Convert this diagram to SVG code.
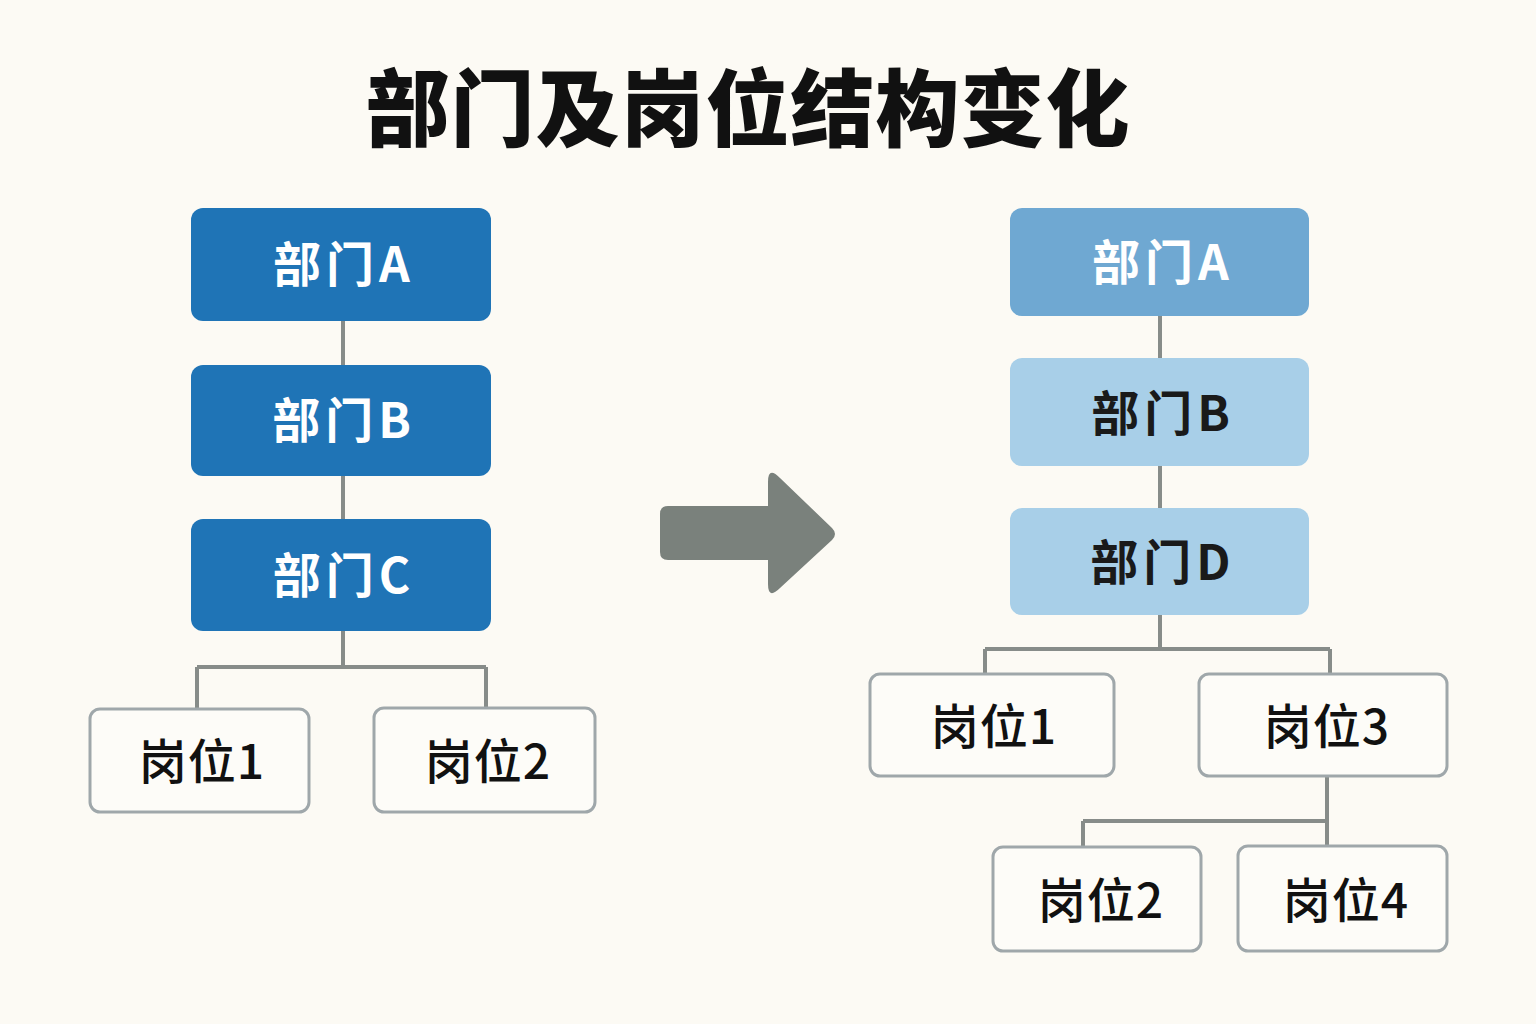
<svg xmlns="http://www.w3.org/2000/svg" width="1536" height="1024" viewBox="0 0 1536 1024">
<style>
.bg{fill:#fcfaf4}
.title{font-family:"Noto Sans CJK SC","Noto Sans",sans-serif;font-weight:900;font-size:84px;fill:#111}
.dept{stroke:none}
.d1{fill:#1f74b6}
.d2{fill:#6fa8d2}
.d3{fill:#a8cfe8}
.lbl{font-family:"Noto Sans CJK SC","Noto Sans",sans-serif;font-weight:700;font-size:48px;text-anchor:middle;letter-spacing:5px}
.w{fill:#fff}
.k{fill:#1a1a1a}
.pos{fill:#fdfcf8;stroke:#9fa7aa;stroke-width:3}
.plbl{font-family:"Noto Sans CJK SC","Noto Sans",sans-serif;font-weight:500;font-size:48px;text-anchor:middle;fill:#111;letter-spacing:1px}
.conn{fill:none;stroke:#878c89;stroke-width:4}
</style>
<rect class="bg" x="0" y="0" width="1536" height="1024"/>
<text class="title" x="748" y="140" text-anchor="middle" letter-spacing="1">部门及岗位结构变化</text>
<g id="connectors">
<path class="conn" d="M343 321V365M343 476V519M343 631V667M197 667H486M197 667V709M486 667V708"/>
<path class="conn" d="M1160 316V358M1160 466V508M1160 615V649M985 649H1330M985 649V675M1330 649V675"/>
<path class="conn" d="M1327 776V821M1083 821H1327M1083 821V847M1327 821V846"/>
</g>
<g id="arrow">
<path d="M668 506H768V482Q768 466 780 478L832 528Q838 534 832 540L780 588Q768 600 768 584V560H668Q660 560 660 552V514Q660 506 668 506Z" fill="#7a817c"/>
</g>
<g id="left-dept-a"><rect class="dept d1" x="191" y="208" width="300" height="113" rx="12"/><text class="lbl w" x="344" y="282">部门A</text></g>
<g id="left-dept-b"><rect class="dept d1" x="191" y="365" width="300" height="111" rx="12"/><text class="lbl w" x="344" y="438">部门B</text></g>
<g id="left-dept-c"><rect class="dept d1" x="191" y="519" width="300" height="112" rx="12"/><text class="lbl w" x="344" y="593">部门C</text></g>
<g id="left-pos-1"><rect class="pos" x="90" y="709" width="219" height="103" rx="10"/><text class="plbl" x="202" y="779">岗位1</text></g>
<g id="left-pos-2"><rect class="pos" x="374" y="708" width="221" height="104" rx="10"/><text class="plbl" x="488" y="779">岗位2</text></g>
<g id="right-dept-a"><rect class="dept d2" x="1010" y="208" width="299" height="108" rx="12"/><text class="lbl w" x="1163" y="280">部门A</text></g>
<g id="right-dept-b"><rect class="dept d3" x="1010" y="358" width="299" height="108" rx="12"/><text class="lbl k" x="1163" y="431">部门B</text></g>
<g id="right-dept-d"><rect class="dept d3" x="1010" y="508" width="299" height="107" rx="12"/><text class="lbl k" x="1163" y="580">部门D</text></g>
<g id="right-pos-1"><rect class="pos" x="870" y="674" width="244" height="102" rx="10"/><text class="plbl" x="994" y="744">岗位1</text></g>
<g id="right-pos-3"><rect class="pos" x="1199" y="674" width="248" height="102" rx="10"/><text class="plbl" x="1327" y="744" letter-spacing="4">岗位3</text></g>
<g id="right-pos-2"><rect class="pos" x="993" y="847" width="208" height="104" rx="10"/><text class="plbl" x="1101" y="918">岗位2</text></g>
<g id="right-pos-4"><rect class="pos" x="1238" y="846" width="209" height="105" rx="10"/><text class="plbl" x="1346" y="918">岗位4</text></g>
</svg>
